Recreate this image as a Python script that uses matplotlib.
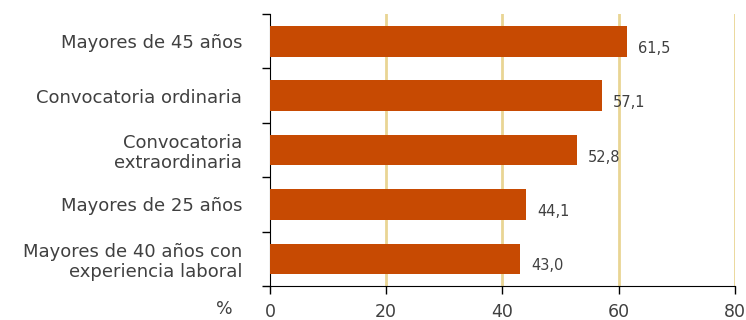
import numpy as np
import matplotlib
matplotlib.use('Agg')
import matplotlib.pyplot as plt

plt.rcParams['font.family'] = ['DejaVu Sans']

categories = ['Mayores de 45 años', 'Convocatoria ordinaria', 'Convocatoria\nextraordinaria',
              'Mayores de 25 años', 'Mayores de 40 años con\nexperiencia laboral']
values = [61.5, 57.1, 52.8, 44.1, 43.0]
value_labels = ['61,5', '57,1', '52,8', '44,1', '43,0']
xticks = [0, 20, 40, 60, 80]

bar_color = '#C74A02'
grid_color = '#E9D594'
text_color = '#404040'

fig = plt.figure(figsize=(7.46, 3.2), dpi=100)
ax = fig.add_axes([0.362, 0.106, 0.623, 0.850])

y = np.arange(len(categories))[::-1]
ax.barh(y, values, height=0.56, color=bar_color, zorder=3)

for yi, v, lab in zip(y, values, value_labels):
    ax.annotate(lab, (v, yi), xytext=(8, -5), textcoords='offset points',
                ha='left', va='center', fontsize=10.5, color=text_color, zorder=4)

ax.set_xlim(0, 80)
ax.set_ylim(-0.5, len(categories) - 0.5)
ax.set_xticks(xticks)
ax.set_xticklabels([str(t) for t in xticks], fontsize=12.5, color=text_color)
for t in xticks[1:]:
    ax.axvline(t, color=grid_color, lw=2, zorder=1)

ax.set_yticks(np.arange(-0.5, len(categories), 1.0))
ax.set_yticklabels([])
ax.set_yticks(y, minor=True)
ax.set_yticklabels(categories, minor=True, fontsize=13, color=text_color,
                   ha='right', multialignment='right', linespacing=1.15)
ax.tick_params(axis='y', which='minor', length=0, pad=20)
ax.tick_params(axis='y', which='major', length=6, width=1, direction='out')
ax.tick_params(axis='x', length=6, width=1, direction='out', pad=6)

for s in ['top', 'right']:
    ax.spines[s].set_visible(False)
ax.spines['left'].set_color('black')
ax.spines['bottom'].set_color('black')

fig.text(0.290, 0.005, '%', fontsize=12.5, color=text_color, ha='left', va='bottom')

fig.savefig('out.png', dpi=100)
